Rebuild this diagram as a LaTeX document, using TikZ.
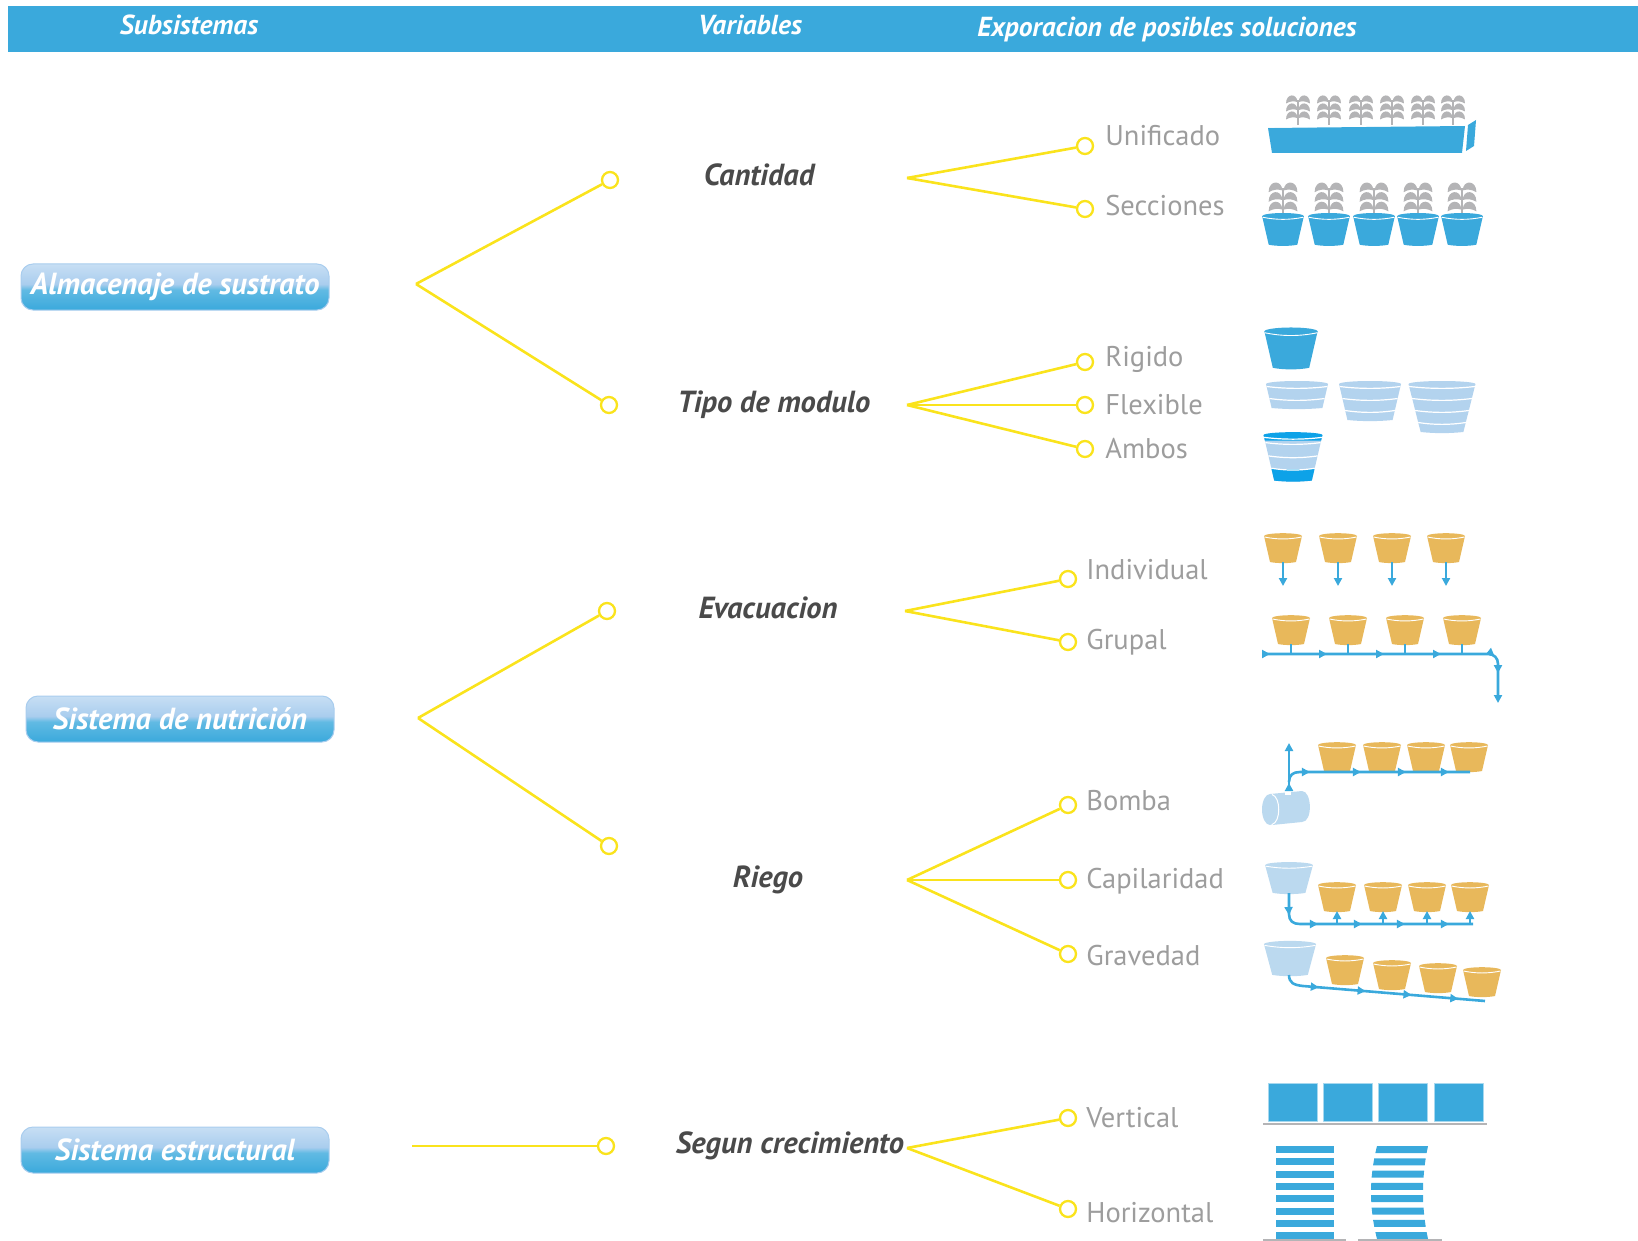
\documentclass[tikz,border=0pt]{standalone}
\usepackage{fontspec}
\setmainfont{PT Sans}
\usetikzlibrary{positioning,arrows.meta,decorations.markings}
\definecolor{azul}{HTML}{3AA9DC}
\definecolor{azulbrillo}{HTML}{A9CDEE}
\definecolor{azulclaro}{HTML}{B3D3EE}
\definecolor{azulvivo}{HTML}{0DA2E8}
\definecolor{celeste}{HTML}{BBD9EF}
\definecolor{naranja}{HTML}{E8B85B}
\definecolor{gris}{HTML}{B4B4B6}
\definecolor{amarillo}{HTML}{FAE31C}
\definecolor{textogris}{HTML}{9D9D9D}
\definecolor{textoosc}{HTML}{4A4A4A}
\pgfdeclareverticalshading{brillo}{100bp}{color(0bp)=(azul); color(25bp)=(azul); color(47bp)=(azul!80!white); color(53bp)=(azulbrillo); color(75bp)=(azulbrillo!65!white); color(100bp)=(azulbrillo!65!white)}
\tikzset{enc/.style={font=\fontsize{27.5}{27.5}\selectfont\bfseries\itshape, text=white}}
\tikzset{sub/.style={rounded corners=12pt, minimum width=308pt, minimum height=46pt, inner sep=2pt, shading=brillo, draw=azulbrillo, line width=1pt, text=white, font=\fontsize{30.5}{30.5}\selectfont\bfseries\itshape}}
\tikzset{var/.style={text=textoosc, font=\fontsize{30.5}{30.5}\selectfont\bfseries\itshape}}
\tikzset{opc/.style={text=textogris, inner sep=2pt, font=\fontsize{28.5}{28.5}\selectfont}}
\tikzset{nodo/.style={circle, draw=amarillo, fill=white, line width=2.3pt, minimum size=16pt, inner sep=0pt}}
\tikzset{rama/.style={draw=amarillo, line width=2.6pt}}
\tikzset{tubo/.style={draw=azul, line width=2.6pt}}
\tikzset{fl/.tip={Triangle[length=8pt,width=8pt]}}
\tikzset{maceta/.pic={code={
  \fill[#1] (-19,1) -- (-13,27) .. controls (-6,28.5) and (6,28.5) .. (13,27) -- (19,1) -- cycle;
  \fill[#1] (0,1) ellipse [x radius=19, y radius=2.8];
  \draw[white, line width=0.9pt] (-18.6,2) .. controls (-6,4.6) and (6,4.6) .. (18.6,2);}}}
\tikzset{planta/.pic={code={
  \draw[gris, line width=1.8pt] (0,0) -- (0,-25);
  \foreach \yy in {-7,-15,-23}{
    \fill[gris] (0.6,\yy) .. controls (0.8,\yy-9) and (12,\yy-9) .. (12,\yy+1.5) .. controls (8,\yy-1) and (4,\yy-1) .. (0.6,\yy) -- cycle;
    \fill[gris] (-0.6,\yy) .. controls (-0.8,\yy-9) and (-12,\yy-9) .. (-12,\yy+1.5) .. controls (-8,\yy-1) and (-4,\yy-1) .. (-0.6,\yy) -- cycle;}}}}
\tikzset{capas/.pic={code={
  \pgfmathsetmacro\hb{12*#1}
  \pgfmathsetmacro\wb{31-2.8*#1}
  \pgfmathtruncatemacro\nn{#1-1}
  \fill[azulclaro] (-31,0) -- (-\wb,\hb) .. controls (-\wb/3,\hb+1.5) and (\wb/3,\hb+1.5) .. (\wb,\hb) -- (31,0) -- cycle;
  \fill[azulclaro] (0,0) ellipse [x radius=31, y radius=3];
  \foreach \k in {0,...,\nn}{
    \pgfmathsetmacro\yk{12*\k+2.5}
    \pgfmathsetmacro\wk{31-0.233*\yk}
    \draw[white, line width=1.2pt] (-\wk,\yk) .. controls (-\wk/3,\yk+2.5) and (\wk/3,\yk+2.5) .. (\wk,\yk);}}}}
\tikzset{ambos/.pic={code={
  \fill[azulclaro] (-31,0) -- (-19.8,48) .. controls (-6,49.5) and (6,49.5) .. (19.8,48) -- (31,0) -- cycle;
  \fill[azulvivo] (-31,0) -- (-29.6,6) -- (29.6,6) -- (31,0) -- cycle;
  \fill[azulvivo] (0,0) ellipse [x radius=31, y radius=3];
  \fill[azulvivo] (-22.6,36) -- (-19.8,48) .. controls (-6,49.5) and (6,49.5) .. (19.8,48) -- (22.6,36) -- cycle;
  \foreach \yk in {2.5,8,22,35}{
    \pgfmathsetmacro\wk{31-0.233*\yk}
    \draw[white, line width=1.2pt] (-\wk,\yk) .. controls (-\wk/3,\yk+2.5) and (\wk/3,\yk+2.5) .. (\wk,\yk);}}}}

\begin{document}
\begin{tikzpicture}[x=1pt,y=-1pt,line join=round]
\useasboundingbox (0,0) rectangle (1638,1241);
\fill[azul] (8,6) rectangle (1638,52);
\node[enc] (hSub) at (189,25) {Subsistemas};
\node[enc] (hVar) at (750,25) {Variables};
\node[enc] (hSol) at (1167,29) {Exporacion de posibles soluciones};

\node[sub] (alm) at (175,287) {Almacenaje de sustrato};
\node[sub] (nut) at (180,719) {Sistema de nutrición};
\node[sub] (est) at (175,1150) {Sistema estructural};

\coordinate (fAlm) at (416,284);
\node[nodo] (cCan) at (610,180) {};
\node[nodo] (cTip) at (609,405) {};
\draw[rama] (fAlm) -- (cCan);
\draw[rama] (fAlm) -- (cTip);
\coordinate (fNut) at (418,718);
\node[nodo] (cEva) at (607,611) {};
\node[nodo] (cRie) at (609,846) {};
\draw[rama] (fNut) -- (cEva);
\draw[rama] (fNut) -- (cRie);
\coordinate (fEst) at (412,1146);
\node[nodo] (cSeg) at (606,1146) {};
\draw[rama] (fEst) -- (cSeg);

\node[var] (vCan) at (759,175) {Cantidad};
\node[var] (vTip) at (774,405) {Tipo de modulo};
\node[var] (vEva) at (768,608) {Evacuacion};
\node[var] (vRie) at (768,880) {Riego};
\node[var] (vSeg) at (790,1146) {Segun crecimiento};

\coordinate (fCan) at (907,178);
\node[nodo] (oUni) at (1085,146) {};
\node[nodo] (oSec) at (1085,209) {};
\draw[rama] (fCan) -- (oUni);
\draw[rama] (fCan) -- (oSec);
\node[opc, right=9pt of oUni, yshift=10pt] (tUni) {Unificado};
\node[opc, right=9pt of oSec, yshift=3pt] (tSec) {Secciones};

\coordinate (fTip) at (907,405);
\node[nodo] (oRig) at (1085,362) {};
\node[nodo] (oFle) at (1085,405) {};
\node[nodo] (oAmb) at (1085,449) {};
\draw[rama] (fTip) -- (oRig);
\draw[rama] (fTip) -- (oFle);
\draw[rama] (fTip) -- (oAmb);
\node[opc, right=9pt of oRig, yshift=3pt] (tRig) {Rigido};
\node[opc, right=9pt of oFle] (tFle) {Flexible};
\node[opc, right=9pt of oAmb] (tAmb) {Ambos};

\coordinate (fEva) at (905,611);
\node[nodo] (oInd) at (1068,579) {};
\node[nodo] (oGru) at (1068,642) {};
\draw[rama] (fEva) -- (oInd);
\draw[rama] (fEva) -- (oGru);
\node[opc, right=7pt of oInd, yshift=9pt] (tInd) {Individual};
\node[opc, right=7pt of oGru] (tGru) {Grupal};

\coordinate (fRie) at (907,880);
\node[nodo] (oBom) at (1068,805) {};
\node[nodo] (oCap) at (1068,880) {};
\node[nodo] (oGra) at (1068,954) {};
\draw[rama] (fRie) -- (oBom);
\draw[rama] (fRie) -- (oCap);
\draw[rama] (fRie) -- (oGra);
\node[opc, right=7pt of oBom, yshift=4pt] (tBom) {Bomba};
\node[opc, right=7pt of oCap, yshift=-1pt] (tCap) {Capilaridad};
\node[opc, right=7pt of oGra, yshift=-2pt] (tGra) {Gravedad};

\coordinate (fSeg) at (907,1148);
\node[nodo] (oVer) at (1068,1118) {};
\node[nodo] (oHor) at (1068,1209) {};
\draw[rama] (fSeg) -- (oVer);
\draw[rama] (fSeg) -- (oHor);
\node[opc, right=7pt of oVer] (tVer) {Vertical};
\node[opc, right=7pt of oHor, yshift=-4pt] (tHor) {Horizontal};

\fill[azul] (1268,128) -- (1465,126) -- (1462,153) -- (1272,153) -- cycle;
\fill[azul] (1468,125) -- (1476,120) -- (1474,146) -- (1466,151) -- cycle;
\draw[white, line width=1.2pt] (1268,127) -- (1467,124);
\foreach \x in {1298,1329,1361,1392,1423,1453} \pic at (\x,125) {planta};
\foreach \x in {1283,1329,1374,1418,1462}{
  \pic[scale=1.2] at (\x,218) {planta};
  \pic[scale=1.1] at (\x,215) {maceta=azul};}

\pic[scale=1.4] at (1291,330) {maceta=azul};
\pic at (1297,384) {capas=2};
\pic at (1370,384) {capas=3};
\pic[xscale=1.08] at (1442,384) {capas=4};
\pic[scale=0.95] at (1293,435) {ambos};

\foreach \x in {1283,1338,1392,1446}{
  \pic at (\x,535) {maceta=naranja};
  \draw[tubo,-fl] (\x,562) -- (\x,586);}
\foreach \x in {1291,1348,1405,1462}{
  \pic at (\x,617) {maceta=naranja};
  \draw[tubo] (\x,644) -- (\x,654);}
\draw[tubo,-fl,postaction={decorate},decoration={markings,
  mark=at position 7pt with {\arrow{fl}}, mark=at position 64pt with {\arrow{fl}},
  mark=at position 121pt with {\arrow{fl}}, mark=at position 178pt with {\arrow{fl}},
  mark=at position 232pt with {\arrow{fl}}, mark=at position 250pt with {\arrow{fl}}}]
  (1263,654) -- (1488,654) .. controls (1494,654) and (1498,658) .. (1498,664) -- (1498,703);

\foreach \x in {1337,1382,1426,1469} \pic at (\x,744) {maceta=naranja};
\fill[celeste] (1270,794) -- (1302,791) .. controls (1312,791) and (1313,822) .. (1302,822) -- (1272,825) -- cycle;
\fill[celeste] (1270,809.5) ellipse [x radius=8, y radius=15.5];
\draw[white, line width=1pt] (1272,794.5) .. controls (1281,797) and (1281,822) .. (1272,824.5);
\fill[white] (1285,788) rectangle (1291,795);
\draw[tubo,-fl,postaction={decorate},decoration={markings,
  mark=at position 7pt with {\arrow{fl}}}] (1289,790) -- (1289,743);
\draw[tubo,postaction={decorate},decoration={markings,
  mark=at position 27pt with {\arrow{fl}}, mark=at position 78pt with {\arrow{fl}},
  mark=at position 123pt with {\arrow{fl}}, mark=at position 166pt with {\arrow{fl}}}]
  (1289,782) .. controls (1289,775) and (1293,772) .. (1300,772) -- (1470,772);

\pic[xscale=1.26,yscale=1.07] at (1289,864) {maceta=celeste};
\foreach \x in {1337,1383,1427,1470}{
  \pic at (\x,884) {maceta=naranja};
  \draw[tubo,-fl] (\x,924) -- (\x,911);}
\draw[tubo,postaction={decorate},decoration={markings,
  mark=at position 22pt with {\arrow{fl}}, mark=at position 56pt with {\arrow{fl}},
  mark=at position 100pt with {\arrow{fl}}, mark=at position 143pt with {\arrow{fl}},
  mark=at position 187pt with {\arrow{fl}}}]
  (1289,893) -- (1289,914) .. controls (1289,921) and (1293,924) .. (1300,924) -- (1473,924);

\pic[xscale=1.37,yscale=1.18] at (1290,943) {maceta=celeste};
\pic at (1345,957) {maceta=naranja};
\pic at (1392,962) {maceta=naranja};
\pic at (1438,965) {maceta=naranja};
\pic at (1482,969) {maceta=naranja};
\draw[tubo,postaction={decorate},decoration={markings,
  mark=at position 36pt with {\arrow{fl}}, mark=at position 83pt with {\arrow{fl}},
  mark=at position 129pt with {\arrow{fl}}, mark=at position 176pt with {\arrow{fl}}}]
  (1289,975) .. controls (1289,983) and (1294,985) .. (1303,986) -- (1485,1001);

\foreach \x in {1268,1323,1378,1434}
  \filldraw[fill=azul, draw=azul!45, line width=0.8pt] (\x,1083) rectangle (\x+49,1121);
\draw[gris, line width=2.5pt] (1263,1124) -- (1487,1124);
\foreach \i in {0,...,7}{
  \pgfmathsetmacro\ya{1146+12.3*\i}
  \pgfmathsetmacro\yb{\ya+7}
  \pgfmathsetmacro\ta{(\ya-1192.5)*(\ya-1192.5)/2162}
  \pgfmathsetmacro\tb{(\yb-1192.5)*(\yb-1192.5)/2162}
  \fill[azul] (1276,\ya) rectangle (1334,\yb);
  \fill[azul] (1371+6*\ta,\ya) -- (1423+5*\ta,\ya) -- (1423+5*\tb,\yb) -- (1371+6*\tb,\yb) -- cycle;}
\draw[gris, line width=2pt] (1263,1240) -- (1346,1240);
\draw[gris, line width=2pt] (1358,1240) -- (1442,1240);
\end{tikzpicture}
\end{document}
